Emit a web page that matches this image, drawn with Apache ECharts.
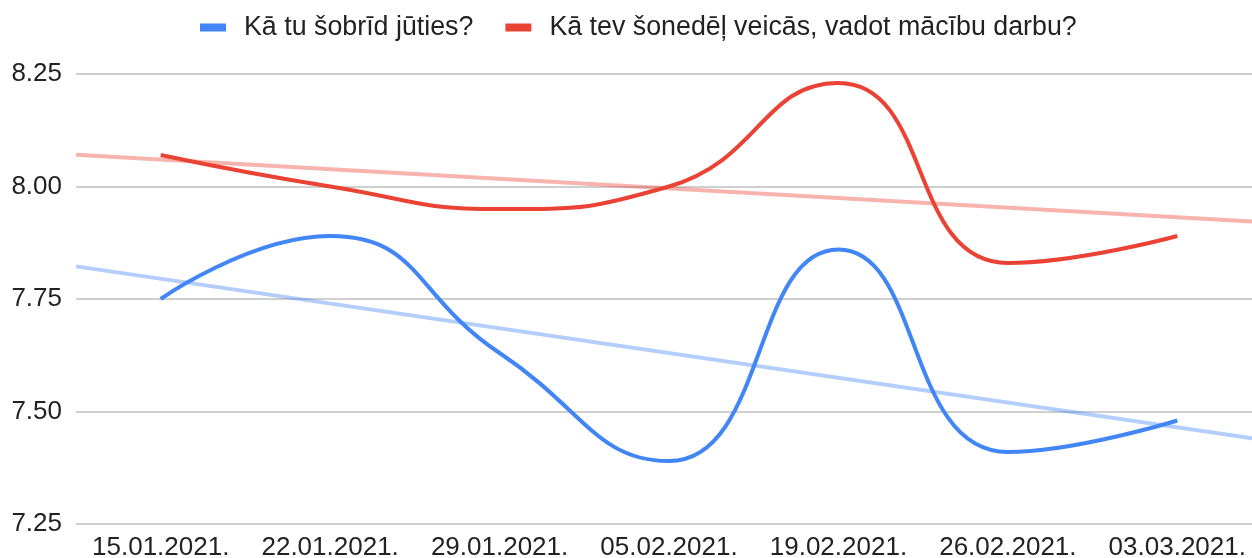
<!DOCTYPE html>
<html>
<head>
<meta charset="utf-8">
<script src="https://cdn.jsdelivr.net/npm/echarts@6/dist/echarts.min.js"></script>
<style>
html,body{margin:0;padding:0;background:#fff;}
#chart{width:1252px;height:558px;}
</style>
</head>
<body>
<div id="chart"></div>
<script>
const categories = ['15.01.2021.', '22.01.2021.', '29.01.2021.', '05.02.2021.', '19.02.2021.', '26.02.2021.', '03.03.2021.'];
const seriesNames = ['Kā tu šobrīd jūties?', 'Kā tev šonedēļ veicās, vadot mācību darbu?'];
const feelValues = [7.75, 7.89, 7.63, 7.39, 7.86, 7.41, 7.48];
const workValues = [8.07, 8.00, 7.95, 8.00, 8.23, 7.83, 7.89];
const yTicks = [7.25, 7.50, 7.75, 8.00, 8.25];

const BLUE = '#4285F4';
const RED = '#EA4335';
const FONT = '"Liberation Sans", Arial, sans-serif';

// Linear regression trendline computed from the data
function trend(values) {
  const n = values.length;
  let sx = 0, sy = 0, sxx = 0, sxy = 0;
  values.forEach((v, i) => { sx += i; sy += v; sxx += i * i; sxy += i * v; });
  const slope = (n * sxy - sx * sy) / (n * sxx - sx * sx);
  const icpt = (sy - slope * sx) / n;
  const x0 = -0.5, x1 = n - 0.5;
  return [[x0, icpt + slope * x0], [x1, icpt + slope * x1]];
}

const chart = echarts.init(document.getElementById('chart'), null, {renderer: 'canvas'});
chart.setOption({
  animation: false,
  backgroundColor: '#ffffff',
  textStyle: {fontFamily: FONT},
  legend: {
    data: seriesNames,
    top: 9,
    left: 195,
    itemWidth: 26,
    itemHeight: 8,
    itemGap: 32,
    icon: 'rect',
    textStyle: {fontSize: 26.8, color: '#222222', fontFamily: FONT, padding: [0, 0, 0, 13]}
  },
  grid: {left: 76, right: -10, top: 74, bottom: 34, containLabel: false, outerBoundsMode: 'none'},
  xAxis: [
    {
      type: 'category',
      data: categories,
      boundaryGap: true,
      axisLine: {show: false},
      axisTick: {show: false},
      axisLabel: {fontSize: 26, color: '#222222', margin: 11, fontFamily: FONT, interval: 0}
    },
    {
      type: 'value',
      min: -0.5,
      max: categories.length - 0.5,
      show: false
    }
  ],
  yAxis: {
    type: 'value',
    min: yTicks[0],
    max: yTicks[yTicks.length - 1],
    interval: 0.25,
    axisLine: {show: false},
    axisTick: {show: false},
    axisLabel: {fontSize: 26, color: '#222222', margin: 14, fontFamily: FONT,
      formatter: v => v.toFixed(2)},
    splitLine: {lineStyle: {color: '#cfcfcf', width: 2}}
  },
  series: [
    {
      name: 'trend-feel',
      type: 'line',
      xAxisIndex: 1,
      data: trend(feelValues),
      symbol: 'none',
      silent: true,
      lineStyle: {color: BLUE, width: 4, opacity: 0.4},
      z: 1
    },
    {
      name: 'trend-work',
      type: 'line',
      xAxisIndex: 1,
      data: trend(workValues),
      symbol: 'none',
      silent: true,
      lineStyle: {color: RED, width: 4, opacity: 0.4},
      z: 1
    },
    {
      name: seriesNames[0],
      type: 'line',
      data: feelValues,
      smooth: 0.5,
      symbol: 'none',
      color: BLUE,
      lineStyle: {color: BLUE, width: 4},
      z: 3
    },
    {
      name: seriesNames[1],
      type: 'line',
      data: workValues,
      smooth: 0.5,
      symbol: 'none',
      color: RED,
      lineStyle: {color: RED, width: 4},
      z: 3
    }
  ]
});
</script>
</body>
</html>
